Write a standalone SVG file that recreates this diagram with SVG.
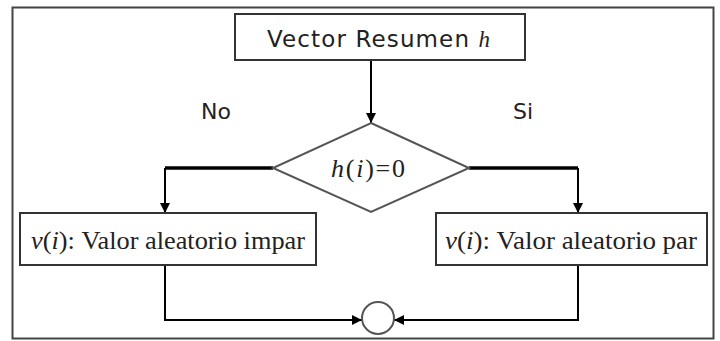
<svg xmlns="http://www.w3.org/2000/svg" width="720" height="341" viewBox="0 0 720 341">
<defs>
<marker id="arr" viewBox="0 0 10 10" refX="10" refY="5" markerWidth="10" markerHeight="10" markerUnits="userSpaceOnUse" orient="auto">
<path d="M0,0 L10,5 L0,10 z" fill="#000"/>
</marker>
</defs>
<style>
.box{fill:#fff;stroke:#333;stroke-width:2}
.sans{font-family:"DejaVu Sans","Liberation Sans",sans-serif;fill:#222}
.serif{font-family:"Liberation Serif","Times New Roman",serif;fill:#222}
.ln{fill:none;stroke:#000;stroke-width:2}
.thick{fill:none;stroke:#000;stroke-width:3.5}
</style>
<rect x="0" y="0" width="720" height="341" fill="#fff"/>
<rect x="12.5" y="7.5" width="701" height="331" fill="none" stroke="#444" stroke-width="2"/>
<g id="connectors">
<line class="ln" x1="371" y1="60" x2="371" y2="123" marker-end="url(#arr)"/>
<polyline class="thick" points="273,168 165,168"/>
<line class="ln" x1="165" y1="168" x2="165" y2="213" marker-end="url(#arr)"/>
<polyline class="thick" points="469,168 578,168"/>
<line class="ln" x1="578" y1="168" x2="578" y2="213" marker-end="url(#arr)"/>
<polyline class="ln" points="165,265 165,320 362,320" marker-end="url(#arr)"/>
<polyline class="ln" points="578,265 578,320 394,320" marker-end="url(#arr)"/>
</g>
<g id="start">
<rect class="box" x="235" y="14" width="290" height="46"/>
<text class="sans" x="267" y="47" font-size="23" textLength="223" lengthAdjust="spacing">Vector Resumen <tspan class="serif" font-style="italic">h</tspan></text>
</g>
<g id="decision">
<polygon points="371,123 469,168 371,212 273,168" fill="#fff" stroke="#555" stroke-width="2"/>
<text class="serif" x="331" y="177" font-size="26" textLength="74" lengthAdjust="spacing"><tspan font-style="italic">h</tspan>(<tspan font-style="italic">i</tspan>)=0</text>
</g>
<g id="label-no"><text class="sans" x="216" y="119" font-size="22" text-anchor="middle">No</text></g>
<g id="label-si"><text class="sans" x="523" y="119" font-size="22" text-anchor="middle">Si</text></g>
<g id="odd">
<rect class="box" x="20" y="213" width="296" height="52"/>
<text class="serif" x="31" y="249" font-size="26" textLength="274" lengthAdjust="spacingAndGlyphs"><tspan font-style="italic">ν</tspan>(<tspan font-style="italic">i</tspan>): Valor aleatorio impar</text>
</g>
<g id="even">
<rect class="box" x="436" y="213" width="271" height="52"/>
<text class="serif" x="445" y="249" font-size="26" textLength="252" lengthAdjust="spacingAndGlyphs"><tspan font-style="italic">ν</tspan>(<tspan font-style="italic">i</tspan>): Valor aleatorio par</text>
</g>
<g id="merge">
<circle cx="378" cy="318" r="16" fill="#fff" stroke="#555" stroke-width="2"/>
</g>
</svg>
